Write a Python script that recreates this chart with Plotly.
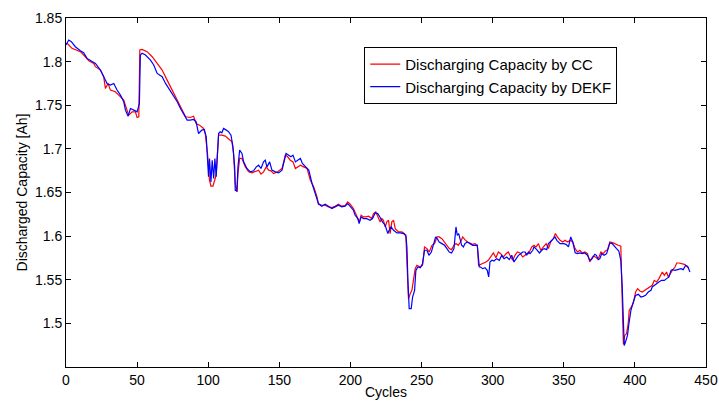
import plotly.graph_objects as go

# ---- data ----
cc_cycles = [0, 1.4, 4.2, 7.7, 10.1, 13.6, 16.0, 19.5, 20.7, 24.2, 26.5, 27.7, 29.6, 31.2, 34.7, 37.1, 40.6, 42.9, 44.1, 46.5, 48.8, 50.0, 51.2, 51.9, 53.5, 57.0, 60.6, 64.1, 67.6, 71.1, 73.5, 77.0, 80.5, 84.1,
             87.3, 89.7, 91.5, 93.9, 96.7, 97.9, 99.5, 100.9, 101.9, 103.3, 104.9, 105.6, 107.3, 109.6, 112.0, 114.3, 116.7, 117.8, 119.0, 120.2, 120.9, 122.1, 123.7, 126.1, 128.4, 130.8, 133.1, 135.4, 137.1, 138.9, 140.8, 142.5, 144.1, 146.0, 148.8, 151.9, 154.2, 155.9, 157.7, 159.6, 161.3, 162.9, 164.8, 167.1, 169.5, 171.8, 174.2, 176.5,
             177.5, 179.8, 182.2, 184.5, 186.9, 189.2, 191.5, 193.9, 196.2, 198.1, 199.8, 202.1, 203.8, 205.2, 206.3, 207.5, 209.2, 210.8, 212.7, 215.0, 216.2, 217.8, 219.2, 220.9, 222.1, 223.2, 224.4, 225.6, 226.8, 227.9, 229.1, 230.3, 231.5, 233.8, 236.2, 238.0, 239.0, 239.9, 240.8, 242.0, 243.2, 244.3, 245.5, 246.7, 249.1, 250.7, 252.1, 253.8, 255.4, 257.3, 259.2, 260.8, 262.4, 264.3, 266.2,
             267.6, 269.5, 271.1, 272.8, 274.2, 275.8, 277.5, 278.9, 280.5, 282.2, 284.0, 285.9, 287.6, 289.2, 290.1, 291.5, 293.4, 295.3, 296.9, 298.6, 300.5, 302.3, 304.0, 305.6, 307.5, 309.4, 311.0, 312.7, 314.1, 315.7, 317.4, 319.2, 321.1, 322.8, 323.9, 325.1, 327.5, 329.1, 330.5, 332.2, 333.8, 335.7, 337.6, 339.2, 340.8, 342.7, 344.1, 345.5, 347.4, 349.3, 350.9, 352.6, 354.5, 356.3,
             357.9, 359.6, 361.3, 362.9, 364.8, 366.7, 368.3, 369.5, 370.7, 372.3, 373.7, 374.6, 376.1, 377.7, 379.3, 380.8, 382.4, 384.7, 386.4, 388.3, 390.1, 390.6, 391.3, 391.9, 392.9, 394.1, 395.3, 396.0, 397.2, 398.9, 400.5, 401.9, 403.5, 405.2, 407.0, 408.9, 410.6, 412.2, 413.6, 415.3, 416.9, 418.3, 419.3, 420.7, 422.3, 423.5, 424.7, 426.3, 428.2, 429.4, 431.0, 432.9, 434.8, 436.4, 438.1]
cc_capacity = [1.821, 1.8202, 1.8152, 1.8133, 1.8114, 1.8056, 1.801, 1.798, 1.7942, 1.7903, 1.7827, 1.7693, 1.775, 1.7674, 1.7655, 1.7616, 1.7559, 1.7444, 1.7387, 1.7425, 1.7425, 1.736, 1.7368, 1.8133, 1.814, 1.8114, 1.8056, 1.798, 1.7903, 1.7788, 1.7712, 1.7597, 1.7482, 1.7368,
               1.736, 1.7375, 1.7291, 1.7272, 1.7234, 1.7176, 1.6947, 1.6641, 1.6572, 1.6572, 1.666, 1.6717, 1.7157, 1.7157, 1.7146, 1.7119, 1.7081, 1.6947, 1.6603, 1.6507, 1.6717, 1.689, 1.689, 1.6794, 1.6737, 1.6725, 1.6737, 1.6756, 1.671, 1.6737, 1.6794, 1.6756, 1.6748, 1.6717, 1.6737, 1.6775, 1.6928, 1.6909, 1.687, 1.6851, 1.6775, 1.6794, 1.6813, 1.6794, 1.6775, 1.6641, 1.6564, 1.645,
               1.6366, 1.6354, 1.6354, 1.6335, 1.6327, 1.6343, 1.6366, 1.6343, 1.635, 1.6392, 1.6366, 1.6316, 1.6258, 1.622, 1.6163, 1.6239, 1.622, 1.622, 1.6228, 1.6201, 1.6258, 1.6278, 1.622, 1.6163, 1.6201, 1.6182, 1.6105, 1.6163, 1.6182, 1.6029, 1.6163, 1.6182, 1.6086, 1.6048, 1.6048, 1.6029, 1.5991, 1.5646, 1.5283, 1.534, 1.5379, 1.5493, 1.5627, 1.5666, 1.5646, 1.5666, 1.5876, 1.5857, 1.5818, 1.5895, 1.5914, 1.5991, 1.5991, 1.5971, 1.5933,
               1.5895, 1.5857, 1.5845, 1.5895, 1.5914, 1.5895, 1.5933, 1.5991, 1.596, 1.5933, 1.5922, 1.5906, 1.5914, 1.5895, 1.5666, 1.5677, 1.5685, 1.5704, 1.5723, 1.5761, 1.5807, 1.5753, 1.5818, 1.5799, 1.5761, 1.5799, 1.5818, 1.5761, 1.5723, 1.578, 1.5818, 1.5807, 1.5761, 1.578, 1.5799, 1.5799, 1.5876, 1.5895, 1.5876, 1.5914, 1.5838, 1.5876, 1.5914, 1.5857, 1.5933, 1.5972, 1.6029, 1.5991, 1.5952, 1.5933, 1.5952, 1.5933, 1.5952, 1.5933,
               1.586, 1.5818, 1.5838, 1.5807, 1.5818, 1.5799, 1.5704, 1.5742, 1.5769, 1.5761, 1.5742, 1.5753, 1.5818, 1.5799, 1.583, 1.5845, 1.5933, 1.5922, 1.5906, 1.5895, 1.5884, 1.5608, 1.5187, 1.476, 1.4862, 1.4881, 1.4996, 1.5149, 1.518, 1.5233, 1.5359, 1.5398, 1.5371, 1.5359, 1.5379, 1.5398, 1.5417, 1.5436, 1.5493, 1.5474, 1.5513, 1.5551, 1.5589, 1.5551, 1.5589, 1.5532, 1.557, 1.5608, 1.5646, 1.5692, 1.5692, 1.5685, 1.5677, 1.5654, 1.5627]

dekf_cycles = [0, 1.9, 3.76, 6.57, 10.1, 12.4, 14.8, 18.3, 20.7, 24.2, 26.5, 28.9, 31.2, 33.6, 35.9, 38.3, 40.6, 41.8, 43.7, 45.3, 47.7, 50.0, 51.6, 52.3, 53.5, 55.9, 59.4, 61.7, 64.1, 67.6, 70.0, 72.3, 74.6, 78.2, 80.5, 82.9, 85.2,
               87.3, 89.7, 91.5, 93.2, 95.5, 97.2, 98.6, 99.5, 100.2, 100.9, 101.9, 102.8, 103.8, 104.7, 105.6, 107.3, 108.4, 109.6, 110.8, 112.7, 114.3, 116.0, 117.4, 118.6, 119.0, 120.2, 120.9, 122.1, 123.7, 124.9, 127.2, 129.6, 131.9, 133.8, 135.4, 137.1, 138.9, 140.1, 141.3, 143.2, 144.8, 147.2, 149.5, 151.9, 153.5, 154.7, 156.6, 158.2, 159.6, 161.3, 162.9, 164.8, 166.2, 168.3, 170.7, 173.0, 175.4,
               177.5, 179.8, 182.2, 184.5, 186.9, 189.2, 191.5, 193.9, 196.2, 198.1, 199.8, 202.1, 203.3, 205.2, 206.1, 207.5, 209.2, 211.5, 213.8, 215.5, 217.4, 219.2, 220.9, 222.5, 224.4, 226.3, 227.2, 228.6, 230.3, 232.7, 235.0, 237.3, 239.0, 239.7, 240.4, 241.3, 242.7, 243.7, 245.1, 246.0, 247.4, 249.1, 250.7, 252.1, 253.8, 255.2, 256.9, 258.6, 259.9, 261.0, 262.4, 264.3, 266.2,
               267.7, 269.5, 271.1, 272.8, 274.2, 275.1, 276.1, 277.0, 278.2, 279.4, 280.5, 282.2, 284.0, 285.9, 287.6, 289.2, 290.6, 291.5, 293.0, 294.6, 296.2, 297.2, 298.1, 299.5, 300.9, 302.8, 304.7, 306.3, 308.0, 309.9, 311.7, 313.4, 315.0, 316.4, 318.1, 319.7, 321.1, 322.8, 323.9, 325.1, 326.3, 328.2, 329.1, 331.0, 332.9, 334.5, 336.2, 338.0, 339.2, 340.4, 342.3, 343.9, 345.1, 347.4, 349.8, 351.6, 353.3, 354.9, 356.3,
               358.0, 359.6, 361.3, 362.9, 364.8, 366.7, 368.3, 369.5, 370.7, 371.8, 373.0, 374.2, 375.4, 376.6, 378.4, 380.1, 381.2, 382.4, 384.0, 385.4, 387.1, 388.7, 390.1, 391.1, 391.8, 392.5, 393.4, 394.8, 395.8, 397.2, 398.9, 400.5, 402.4, 404.2, 405.9, 407.5, 409.4, 411.3, 412.2, 413.6, 415.3, 416.9, 418.8, 420.7, 422.3, 424.0, 425.4, 426.3, 428.2, 430.5, 432.4, 434.0, 435.7, 437.1, 438.0, 438.7]
dekf_capacity = [1.819, 1.8248, 1.8228, 1.8171, 1.8125, 1.8102, 1.8037, 1.7999, 1.798, 1.7903, 1.7827, 1.775, 1.7731, 1.775, 1.7674, 1.7616, 1.754, 1.7444, 1.7375, 1.7463, 1.7444, 1.7425, 1.7521, 1.8075, 1.8095, 1.8075, 1.8018, 1.7961, 1.7865, 1.7827, 1.775, 1.7693, 1.7636, 1.754, 1.7463, 1.7387, 1.733,
                 1.733, 1.7337, 1.731, 1.7176, 1.7215, 1.7222, 1.7138, 1.687, 1.668, 1.689, 1.6622, 1.687, 1.666, 1.689, 1.668, 1.7176, 1.7196, 1.7184, 1.7234, 1.7215, 1.7196, 1.7157, 1.7023, 1.6794, 1.6526, 1.6519, 1.6794, 1.6985, 1.6947, 1.6851, 1.6775, 1.6737, 1.6748, 1.6794, 1.6813, 1.6775, 1.6851, 1.687, 1.6794, 1.6851, 1.6756, 1.6737, 1.6725, 1.6756, 1.6851, 1.6947, 1.6928, 1.6909, 1.6928, 1.6851, 1.687, 1.689, 1.6832, 1.6794, 1.6756, 1.6603, 1.6488,
                 1.6373, 1.6343, 1.6366, 1.6343, 1.6316, 1.6335, 1.6354, 1.6335, 1.6343, 1.6373, 1.6335, 1.6297, 1.6239, 1.6201, 1.6144, 1.622, 1.6201, 1.6201, 1.6182, 1.6201, 1.6266, 1.6258, 1.6213, 1.6163, 1.6125, 1.6029, 1.6067, 1.6105, 1.6067, 1.6037, 1.6037, 1.6029, 1.601, 1.5876, 1.5493, 1.5168, 1.5168, 1.5302, 1.5379, 1.5608, 1.5646, 1.5638, 1.5685, 1.5838, 1.5838, 1.578, 1.5818, 1.5914, 1.5991, 1.5971, 1.5933, 1.5914, 1.5895,
                 1.586, 1.5818, 1.5807, 1.5857, 1.6105, 1.601, 1.6029, 1.5952, 1.5895, 1.5876, 1.5914, 1.5933, 1.5914, 1.5895, 1.5895, 1.5895, 1.5646, 1.5646, 1.5627, 1.5639, 1.5608, 1.5532, 1.5704, 1.5723, 1.5715, 1.5742, 1.5723, 1.578, 1.5742, 1.5761, 1.5731, 1.578, 1.5704, 1.5742, 1.578, 1.5799, 1.5818, 1.5818, 1.578, 1.5818, 1.5799, 1.5838, 1.5876, 1.5845, 1.5807, 1.5838, 1.5857, 1.5845, 1.5914, 1.5933, 1.5972, 1.5991, 1.5952, 1.5914, 1.5914, 1.5906, 1.5876, 1.5991, 1.5933,
                 1.581, 1.5799, 1.5807, 1.5799, 1.5807, 1.578, 1.5723, 1.5731, 1.5761, 1.5792, 1.578, 1.5731, 1.5742, 1.5799, 1.578, 1.5799, 1.5857, 1.5922, 1.5914, 1.5884, 1.5857, 1.583, 1.5723, 1.5417, 1.5034, 1.4747, 1.4786, 1.4862, 1.4996, 1.5149, 1.5245, 1.5321, 1.5333, 1.5302, 1.531, 1.5321, 1.5359, 1.5379, 1.5417, 1.5436, 1.5455, 1.5474, 1.5493, 1.5493, 1.5513, 1.5532, 1.5608, 1.5616, 1.5608, 1.5616, 1.5627, 1.5616, 1.5666, 1.5654, 1.5627, 1.5589]

x_tick_vals = [0, 50, 100, 150, 200, 250, 300, 350, 400, 450]
y_tick_vals = [1.5, 1.55, 1.6, 1.65, 1.7, 1.75, 1.8, 1.85]
y_tick_text = ["1.5", "1.55", "1.6", "1.65", "1.7", "1.75", "1.8", "1.85"]

FONT = "Liberation Sans, Arial, sans-serif"

fig = go.Figure()
fig.add_trace(go.Scatter(x=cc_cycles, y=cc_capacity, mode="lines",
                         name="Discharging Capacity by CC",
                         line=dict(color="#ff0000", width=1.2)))
fig.add_trace(go.Scatter(x=dekf_cycles, y=dekf_capacity, mode="lines",
                         name="Discharging Capacity by DEKF",
                         line=dict(color="#0000ff", width=1.2)))

axis_common = dict(showline=True, mirror="ticks", linecolor="black", linewidth=1,
                   ticks="inside", ticklen=5, tickcolor="black", tickwidth=1,
                   showgrid=False, zeroline=False, automargin=False,
                   tickfont=dict(family=FONT, size=14, color="black"))

fig.update_xaxes(range=[0, 450], tickvals=x_tick_vals,
                 ticktext=[str(v) for v in x_tick_vals],
                 title=dict(text="Cycles", font=dict(family=FONT, size=14, color="black"), standoff=0),
                 **axis_common)
fig.update_yaxes(range=[1.45, 1.85], tickvals=y_tick_vals, ticktext=y_tick_text,
                 title=dict(text="Discharged Capacity [Ah]", font=dict(family=FONT, size=14, color="black"), standoff=4),
                 **axis_common)

fig.update_layout(
    width=719, height=401,
    margin=dict(l=66, r=13, t=18, b=34, autoexpand=False),
    paper_bgcolor="white", plot_bgcolor="white",
    font=dict(family=FONT, size=14, color="black"),
    showlegend=True,
    legend=dict(x=0.466, y=0.917, xanchor="left", yanchor="top",
                bgcolor="white", bordercolor="black", borderwidth=1,
                font=dict(family=FONT, size=15, color="black"),
                tracegroupgap=0, itemwidth=30),
)

fig.write_html("out.html")
